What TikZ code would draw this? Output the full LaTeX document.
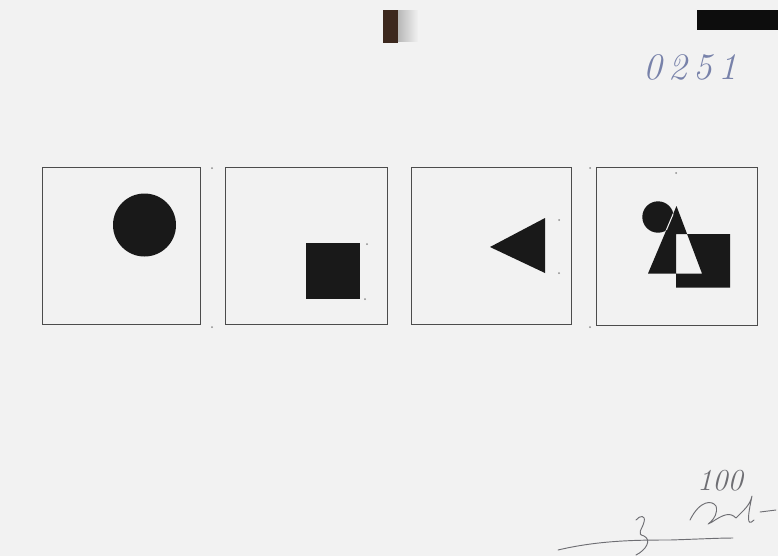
\documentclass[tikz,border=0pt]{standalone}
\usepackage{amsmath}
\usetikzlibrary{fadings}

\definecolor{paper}{RGB}{242,242,242}
\definecolor{inkblue}{RGB}{120,130,170}
\definecolor{pencil}{RGB}{110,110,115}
\definecolor{clipbrown}{RGB}{60,40,30}

\tikzset{
  frame/.style={draw=black!70, line width=0.6pt},
  solid shape/.style={fill=black!90},
  tick dot/.style={fill=black!45},
  scrawl/.style={draw=pencil, line width=0.8pt, line cap=round, line join=round}
}

\begin{document}
\begin{tikzpicture}[x=0.3mm,y=-0.3mm]

      % Paper
      \useasboundingbox (0,0) rectangle (778,556);
      \fill[paper] (0,0) rectangle (778,556);

      % Clip and black strip at the top
      \fill[black!30, path fading=east] (396,10) rectangle (418,42);
      \fill[clipbrown] (383,10) rectangle (398,43);
      \fill[black!95] (697,10) rectangle (778,30);

      % Frames
      \draw[frame] (42,167) rectangle (200,324);
      \draw[frame] (225,167) rectangle (387,324);
      \draw[frame] (411,167) rectangle (571,324);
      \draw[frame] (596,167) rectangle (757,325);

      % Pencil marks
      \foreach \x/\y in {212/168, 212/327, 590/168, 590/327, 676/173,
                         559/220, 559/273, 367/244, 365/299}
          \fill[tick dot] (\x,\y) circle (1);

      % Square 1: circle
      \fill[solid shape] (144.5,225) circle (31.5);

      % Square 2: square
      \fill[solid shape] (306,243) rectangle (360,299);

      % Square 3: triangle
      \fill[solid shape] (490,247) -- (545,218) -- (545,273) -- cycle;

      % Square 4: circle, triangle and square
      \fill[solid shape] (658,217) circle (15.7);
      \fill[solid shape, even odd rule]
          (676.5,206) -- (648,273.5) -- (702,273.5) -- cycle
          (676,234) rectangle (730,287.5);
      \begin{scope}
          \clip (658,217) circle (15.7);
          \draw[paper, line width=0.9pt] (676.5,206) -- (648,273.5);
      \end{scope}

      % Handwriting
      \node[text=inkblue, font=\fontsize{32}{32}\selectfont\itshape] (code) at (690,67) {0\,2\,5\,1};
      \node[text=pencil, font=\fontsize{26}{26}\selectfont\itshape] (mark) at (720,481) {100};

      % Signature
      \draw[scrawl] (690,520) .. controls (700,500) and (712,500) .. (716,506)
                    .. controls (720,520) and (700,528) .. (712,522)
                    .. controls (724,514) and (730,512) .. (736,518)
                    .. controls (744,510) and (750,505) .. (752,496)
                    .. controls (748,515) and (746,528) .. (754,520);
      \draw[scrawl] (760,512) -- (776,510);
      \draw[scrawl] (636,520) .. controls (640,515) and (646,515) .. (644,522)
                    .. controls (642,530) and (636,534) .. (644,536)
                    .. controls (652,540) and (646,550) .. (636,555);
      \draw[scrawl] (558,550) .. controls (600,540) and (640,540) .. (670,540)
                    .. controls (700,539) and (720,538) .. (733,538);

\end{tikzpicture}
\end{document}
